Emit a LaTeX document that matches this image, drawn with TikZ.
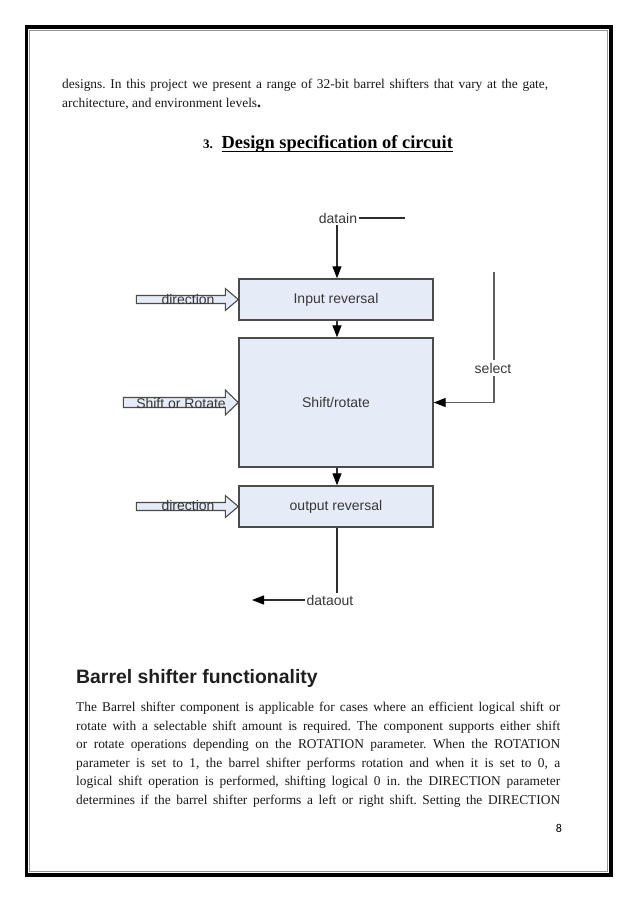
\documentclass[tikz,border=0pt]{standalone}
\usepackage{fontspec}
\setmainfont{Liberation Serif}
\newfontfamily\diagfont{Liberation Sans}
\newfontfamily\numfont{Carlito}
\usetikzlibrary{arrows.meta,calc}
\definecolor{boxfill}{RGB}{230,236,247}
\definecolor{boxline}{RGB}{75,75,75}
\definecolor{lbltext}{RGB}{55,55,55}
\definecolor{wirecol}{RGB}{45,45,45}
\definecolor{selwire}{RGB}{95,95,95}
\definecolor{innerline}{RGB}{150,150,150}
\frenchspacing
\begin{document}
\begin{tikzpicture}[x=1pt,y=-1pt,
  blk/.style={draw=boxline, line width=1.4pt, fill=boxfill, minimum width=194pt, inner sep=0pt,
    font=\diagfont\fontsize{14}{16}\selectfont, text=lbltext},
  lbl/.style={font=\diagfont\fontsize{14}{16}\selectfont, text=lbltext, inner sep=1.5pt},
  sig/.style={draw=wirecol, line width=1.3pt, -{Triangle[width=9pt,length=12pt,color=black]}},
  plainwire/.style={draw=wirecol, line width=1.3pt},
  blkarrow/.style={draw=boxline, line width=1.1pt, fill=boxfill},
  body/.style={anchor=base west, inner sep=0pt, font=\fontsize{13.4}{15}\selectfont, text=black!90}
]
\useasboundingbox (0,0) rectangle (638,903);
\fill[white] (0,0) rectangle (638,903);
% page border
\draw[line width=3.5pt] (26.5,27) rectangle (611,875);
\draw[innerline, line width=1pt] (29.8,30.5) rectangle (607.7,871.5);

% top paragraph
\node[body] (t1) at (62,88) {\makebox[486pt][s]{designs. In this project we present a range of 32-bit barrel shifters that vary at the gate,}};
\node[body] (t2) at (62,107.5) {architecture, and environment levels\textbf{\fontsize{16}{16}\selectfont.}};

% section heading
\node[anchor=base west, inner sep=0pt, font=\bfseries\fontsize{13}{15}\selectfont] (secnum) at (203,148) {3.};
\node[anchor=base west, inner sep=0pt, font=\bfseries\fontsize{18.4}{20}\selectfont] (sectitle) at (221.5,148) {Design specification of circuit};
\draw[line width=1.3pt] ($(sectitle.base west)+(0,3.6)$) -- ($(sectitle.base east)+(0,3.6)$);

% diagram blocks
\node[blk, minimum height=41pt] (inrev) at (336,299.5) {Input reversal};
\node[blk, minimum height=129pt] (shiftrot) at (336,402.5) {Shift/rotate};
\node[blk, minimum height=41pt] (outrev) at (336,506.5) {output reversal};

% block arrows
\draw[blkarrow] (inrev.west) -- ++(-13,-11) -- ++(0,7) -- ++(-89,0) -- ++(0,8) -- ++(89,0) -- ++(0,7) -- cycle;
\draw[blkarrow] (shiftrot.west) -- ++(-13,-12.5) -- ++(0,7.5) -- ++(-102,0) -- ++(0,10) -- ++(102,0) -- ++(0,7.5) -- cycle;
\draw[blkarrow] (outrev.west) -- ++(-13,-11) -- ++(0,7) -- ++(-89,0) -- ++(0,8) -- ++(89,0) -- ++(0,7) -- cycle;
\node[lbl] (dirin) at (188,299.5) {direction};
\node[lbl] (shrot) at (181,403) {Shift or Rotate};
\node[lbl] (dirout) at (188,505.5) {direction};

% datain
\node[lbl] (datain) at (338,218) {datain};
\coordinate (dinend) at (405,218);
\draw[plainwire] (datain.east) -- (dinend);
\draw[sig] ($(datain.south -| inrev.north)+(1,0)$) -- ($(inrev.north)+(1,0)$);

% inter-block arrows
\draw[sig] ($(inrev.south)+(1,0)$) -- ($(shiftrot.north)+(1,0)$);
\draw[sig] ($(shiftrot.south)+(1,0)$) -- ($(outrev.north)+(1,0)$);

% select
\coordinate (seltop) at (494,272);
\draw[sig, draw=selwire] (seltop) -- (seltop |- shiftrot.east) -- (shiftrot.east);
\node[lbl, fill=white, inner ysep=3pt] (select) at (493,368) {select};

% dataout
\node[lbl] (dataout) at (330,600) {dataout};
\coordinate (doutend) at (252,600);
\draw[plainwire] ($(outrev.south)+(1,0)$) -- ($(outrev.south |- dataout.north)+(1,0)$);
\draw[sig] (dataout.west) -- (doutend);

% second heading
\node[anchor=base west, inner sep=0pt, font=\diagfont\bfseries\fontsize{19.4}{22}\selectfont, text=black!88] (bshead) at (76,683) {Barrel shifter functionality};

% body paragraph
\node[body] (p1) at (76,711) {\makebox[484pt][s]{The Barrel shifter component is applicable for cases where an efficient logical shift or}};
\node[body] (p2) at (76,730) {\makebox[484pt][s]{rotate with a selectable shift amount is required. The component supports either shift}};
\node[body] (p3) at (76,748.5) {\makebox[484pt][s]{or rotate operations depending on the ROTATION parameter. When the ROTATION}};
\node[body] (p4) at (76,767) {\makebox[484pt][s]{parameter is set to 1, the barrel shifter performs rotation and when it is set to 0, a}};
\node[body] (p5) at (76,785.5) {\makebox[484pt][s]{logical shift operation is performed, shifting logical 0 in. the DIRECTION parameter}};
\node[body] (p6) at (76,804) {\makebox[484pt][s]{determines if the barrel shifter performs a left or right shift. Setting the DIRECTION}};

% page number
\node[anchor=base, inner sep=0pt, font=\numfont\fontsize{12}{14}\selectfont] (pgnum) at (559,832) {8};
\end{tikzpicture}
\end{document}
